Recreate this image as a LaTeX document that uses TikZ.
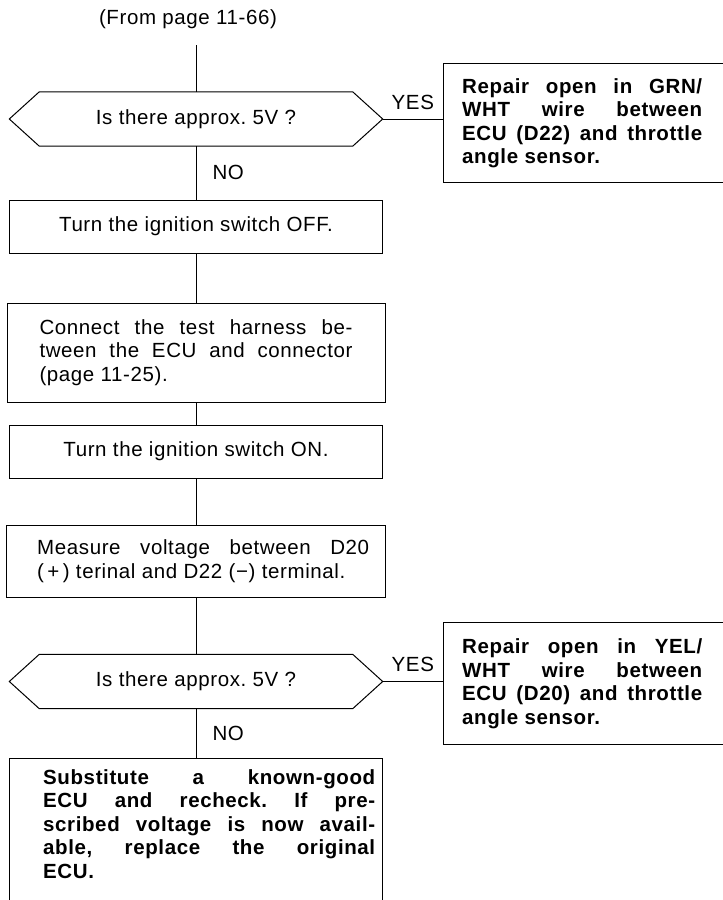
\documentclass[tikz,border=0pt]{standalone}
\usepackage{fontspec}
\setmainfont{Liberation Sans}[LetterSpace=3]
\usetikzlibrary{positioning,calc}
\frenchspacing

\begin{document}
\begin{tikzpicture}[
    x=1pt, y=-1pt,
    font=\fontsize{20.5}{23.5}\selectfont,
    stepbox/.style={rectangle, draw, line width=1pt, inner sep=0pt},
    ask/.style={rectangle, inner sep=0pt, minimum width=313pt, minimum height=54pt},
    note/.style={inner sep=0pt, text width=#1, align=justify, font=\fontsize{20.5}{23.5}\selectfont\bfseries},
    flow/.style={line width=1pt, line join=miter},
    lbl/.style={inner sep=0pt}
]
\useasboundingbox (0,0) rectangle (723,900);
\clip (0,0) rectangle (723,900);

% entry
\node (from) at (188,19) {(From page 11-66)};
\coordinate (top) at (196,45);

% first check
\node[ask] (q1) at (196,119) {Is there approx.\ 5V ?};
\coordinate (q1-l) at ($(q1.west)+(-30,0)$);
\coordinate (q1-r) at ($(q1.east)+(30,0)$);
\node[stepbox, anchor=north west, minimum width=300pt, minimum height=119pt] (r1) at (443,63) {};
\node[note=240pt, right=19pt of r1.west] (r1t) {Repair open in GRN/\linebreak WHT wire between\linebreak ECU (D22) and throttle\linebreak angle sensor.};

% steps
\node[stepbox, minimum width=373pt, minimum height=53pt] (b1) at (196,226.5) {Turn the ignition switch OFF.};
\node[stepbox, minimum width=378pt, minimum height=99pt, text width=313pt, align=justify] (b2) at (196,352.5)
    {Connect the test harness be-\linebreak tween the ECU and connector\linebreak (page 11-25).};
\node[stepbox, minimum width=373pt, minimum height=53pt] (b3) at (196,451.5) {Turn the ignition switch ON.};
\node[stepbox, minimum width=379pt, minimum height=72pt] (b4) at (196,561) {};
\node[inner sep=0pt, text width=332pt, align=justify, right=31pt of b4.west] (b4t)
    {Measure voltage between D20\linebreak (\,+\,) terinal and D22 (−) terminal.};

% second check
\node[ask] (q2) at (196,681.5) {Is there approx.\ 5V ?};
\coordinate (q2-l) at ($(q2.west)+(-30,0)$);
\coordinate (q2-r) at ($(q2.east)+(30,0)$);
\node[stepbox, anchor=north west, minimum width=300pt, minimum height=122pt] (r2) at (443,622) {};
\node[note=240pt, right=19pt of r2.west] (r2t) {Repair open in YEL/\linebreak WHT wire between\linebreak ECU (D20) and throttle\linebreak angle sensor.};

\node[stepbox, anchor=north, minimum width=373pt, minimum height=170pt] (b5) at (196,758) {};
\node[note=332pt, below right=11pt and 34pt of b5.north west] (b5t)
    {Substitute a known-good\linebreak ECU and recheck. If pre-\linebreak scribed voltage is now avail-\linebreak able, replace the original\linebreak ECU.};

% hexagons
\foreach \q in {q1,q2}
    \draw[flow] (\q-l) -- (\q.north west) -- (\q.north east) -- (\q-r) -- (\q.south east) -- (\q.south west) -- cycle;

% connectors
\draw[flow] (top) -- (q1.north);
\draw[flow] (q1-r) -- node[lbl, above=9pt] {YES} (q1-r -| r1.west);
\draw[flow] (q1.south) -- node[lbl, right=16pt] {NO} (b1.north);
\draw[flow] (b1.south) -- (b2.north);
\draw[flow] (b2.south) -- (b3.north);
\draw[flow] (b3.south) -- (b4.north);
\draw[flow] (b4.south) -- (q2.north);
\draw[flow] (q2-r) -- node[lbl, above=9pt] {YES} (q2-r -| r2.west);
\draw[flow] (q2.south) -- node[lbl, right=16pt] {NO} (b5.north);
\end{tikzpicture}
\end{document}
